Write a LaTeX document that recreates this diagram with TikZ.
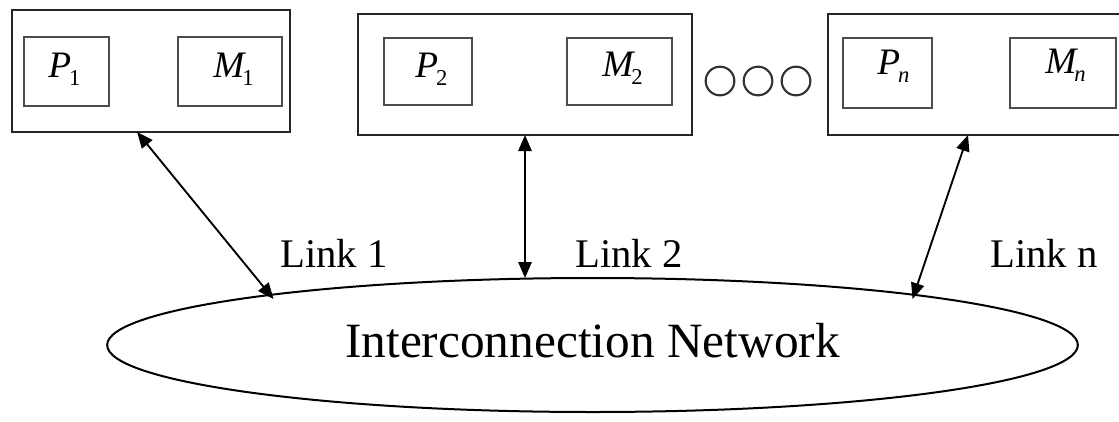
\documentclass[tikz,border=0pt]{standalone}
\usepackage{fontspec}
\setmainfont{Liberation Serif}
\usetikzlibrary{arrows.meta,shapes.geometric,calc,fit}
% processor / memory symbol with a lowered index
\newcommand\unitlbl[2]{{\itshape #1}\kern-1.5pt\raisebox{-6pt}{\fontsize{17}{17}\selectfont #2}}

\begin{document}
\begin{tikzpicture}[x=0.75pt,y=-0.75pt,
  nodebox/.style={draw=black!85, line width=1.7pt, inner sep=0pt, outer sep=0pt},
  partbox/.style={draw=black!70, line width=2.2pt, inner sep=0pt, outer sep=0pt},
  partlbl/.style={anchor=base west, inner sep=0pt, font=\fontsize{28}{28}\selectfont},
  dotmark/.style={circle, draw=black!80, line width=1.6pt, minimum size=21.5pt, inner sep=0pt},
  link/.style={line width=1.4pt, {Triangle[length=12pt,width=10pt]}-{Triangle[length=12pt,width=10pt]}},
  linklbl/.style={anchor=base west, inner sep=0pt, font=\fontsize{30.5}{30.5}\selectfont}]
\useasboundingbox (0,0) rectangle (1119,421);

% computing nodes
\node[nodebox, fit={(12,10) (290,132)}] (box1) {};
\node[partbox, fit={(24,37) (109,106)}] (p1) {};
\node[partbox, fit={(178,37) (282,106)}] (m1) {};
\node[partlbl] (p1t) at (48,77) {\unitlbl{P}{1}};
\node[partlbl] (m1t) at (213,77) {\unitlbl{M}{1}};

\node[nodebox, fit={(358,14) (692,135)}] (box2) {};
\node[partbox, fit={(384,38) (472,105)}] (p2) {};
\node[partbox, fit={(567,38) (672,105)}] (m2) {};
\node[partlbl] (p2t) at (415,77) {\unitlbl{P}{2}};
\node[partlbl] (m2t) at (602,76) {\unitlbl{M}{2}};

\node[nodebox, fit={(828,14) (1135,135)}] (boxn) {};
\node[partbox, fit={(843,38) (932,108)}] (pn) {};
\node[partbox, fit={(1010,38) (1116,108)}] (mn) {};
\node[partlbl] (pnt) at (877,74) {\unitlbl{P}{\itshape n}};
\node[partlbl] (mnt) at (1045,73) {\unitlbl{M}{\itshape n}};

% ellipsis between node 2 and node n
\node[dotmark] (d1) at (720,81) {};
\node[dotmark] (d2) at (758,81) {};
\node[dotmark] (d3) at (796,81) {};

% interconnection network
\node[ellipse, draw, line width=1.5pt, minimum width=728pt, minimum height=100.5pt,
      inner sep=0pt, outer sep=0pt] (net) at (592.5,345) {};
\node[inner sep=0pt, font=\fontsize{37}{37}\selectfont] (nettext) at (592.5,341) {Interconnection Network};

% links: upper ends on the node frames, lower ends just inside the network rim
\coordinate (l1top) at ($(box1.south west)!0.45!(box1.south east)$);
\coordinate (lntop) at ($(boxn.south west)+(140,0)$);
\coordinate (l1bot) at ($(net.center)+(-319,-46)$);
\coordinate (lnbot) at ($(net.center)+(320,-46)$);
\draw[link] (l1top) -- (l1bot);
\draw[link] (box2.south) -- (box2.south |- net.north);
\draw[link] (lntop) -- (lnbot);

\node[linklbl] (t1) at (280,267) {Link 1};
\node[linklbl] (t2) at (575,267) {Link 2};
\node[linklbl] (tn) at (990,267) {Link n};
\end{tikzpicture}
\end{document}
